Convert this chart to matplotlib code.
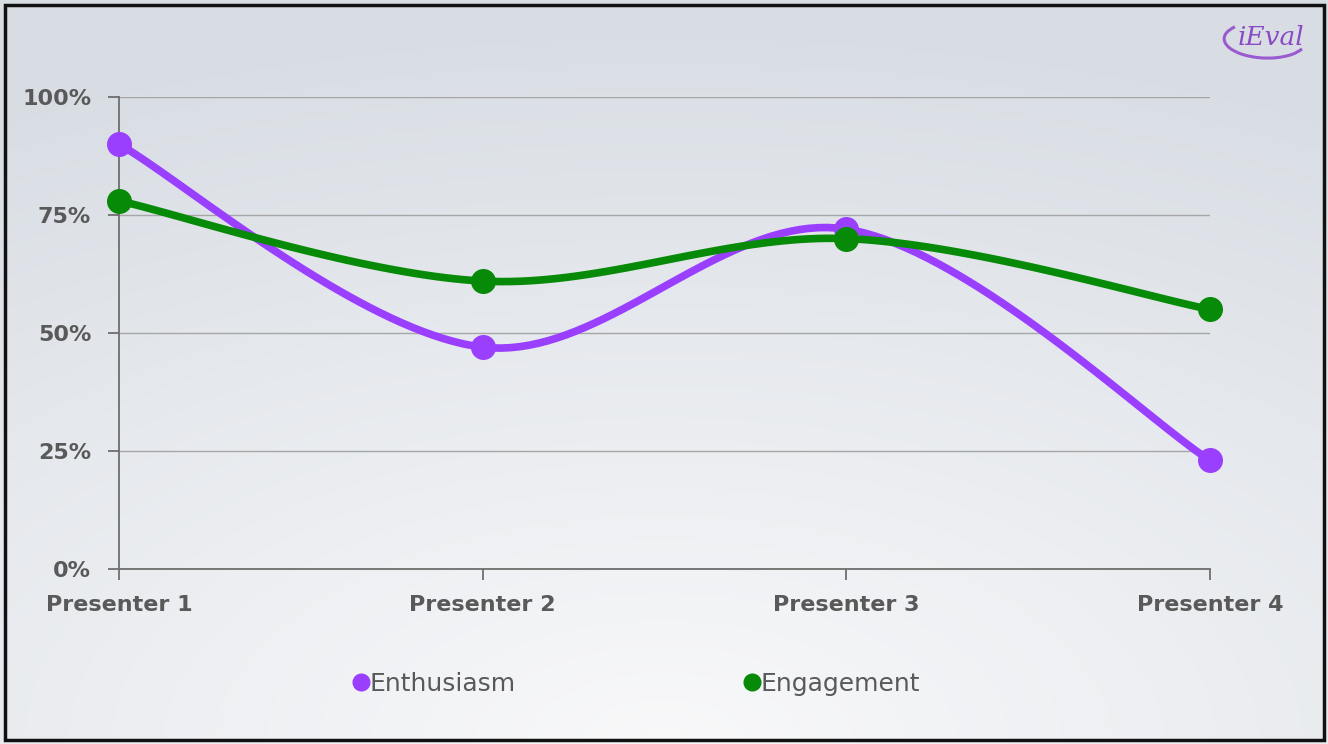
import numpy as np
import matplotlib.pyplot as plt
from matplotlib.lines import Line2D
from matplotlib.patches import Rectangle, Arc
#
# dados
#
presenters = ['Presenter 1', 'Presenter 2', 'Presenter 3', 'Presenter 4']
enthusiasm = [0.90, 0.47, 0.72, 0.23]
engagement = [0.78, 0.61, 0.70, 0.55]
yticks = [0, 0.25, 0.50, 0.75, 1.0]
ylabels = ['0%', '25%', '50%', '75%', '100%']

roxo = '#9b3fff'
verde = '#078a07'
cinza = '#595959'


def suave(y, n=40):
    # curva suavizada tipo Excel (bezier catmull-rom)
    x = np.arange(len(y), dtype=float)
    y = np.asarray(y, dtype=float)
    px, py = [], []
    for i in range(len(y) - 1):
        x0, y0 = x[max(i - 1, 0)], y[max(i - 1, 0)]
        x3, y3 = x[min(i + 2, len(y) - 1)], y[min(i + 2, len(y) - 1)]
        c1x = x[i] + (x[i + 1] - x0) / 6
        c1y = y[i] + (y[i + 1] - y0) / 6
        c2x = x[i + 1] - (x3 - x[i]) / 6
        c2y = y[i + 1] - (y3 - y[i]) / 6
        t = np.linspace(0, 1, n)
        bx = (1-t)**3*x[i] + 3*(1-t)**2*t*c1x + 3*(1-t)*t**2*c2x + t**3*x[i+1]
        by = (1-t)**3*y[i] + 3*(1-t)**2*t*c1y + 3*(1-t)*t**2*c2y + t**3*y[i+1]
        px.extend(bx)
        py.extend(by)
    return np.array(px), np.array(py)


fig = plt.figure(figsize=(13.28, 7.44), dpi=100)
#
# fundo com gradiente
#
bg = fig.add_axes([0, 0, 1, 1], zorder=-10)
yy, xx = np.mgrid[0:1:300j, 0:1:500j]
d = np.sqrt(((xx - 0.5) * 1.0) ** 2 + ((yy - 0.0) * 1.1) ** 2)
d = np.clip(d / 1.05, 0, 1)
c_claro = np.array([0.975, 0.975, 0.98])
c_escuro = np.array([0.85, 0.87, 0.895])
img = c_claro[None, None, :] * (1 - d[..., None]) + c_escuro[None, None, :] * d[..., None]
bg.imshow(img, extent=[0, 1, 0, 1], origin='lower', aspect='auto')
bg.add_patch(Rectangle((4.5 / 1328, 4.5 / 744), 1 - 9 / 1328, 1 - 9 / 744,
                       fill=False, edgecolor='#111111', linewidth=2.5))
bg.set_xlim(0, 1)
bg.set_ylim(0, 1)
bg.axis('off')

ax = fig.add_axes([119 / 1328, 1 - 569 / 744, (1210 - 119) / 1328, (569 - 97) / 744])
ax.patch.set_alpha(0)

xs, ys = suave(enthusiasm)
ax.plot(xs, ys, color=roxo, linewidth=5.5, solid_capstyle='round', zorder=3)
ax.plot(range(4), enthusiasm, 'o', color=roxo, markersize=17, zorder=4, clip_on=False)
xs, ys = suave(engagement)
ax.plot(xs, ys, color=verde, linewidth=5.5, solid_capstyle='round', zorder=5)
ax.plot(range(4), engagement, 'o', color=verde, markersize=17, zorder=6, clip_on=False)

ax.set_xlim(0, 3)
ax.set_ylim(0, 1)
ax.set_xticks(range(4))
ax.set_xticklabels(presenters)
ax.set_yticks(yticks)
ax.set_yticklabels(ylabels)
ax.grid(axis='y', color='#a6a6a6', linewidth=1)
ax.set_axisbelow(True)
for s in ['top', 'right']:
    ax.spines[s].set_visible(False)
for s in ['left', 'bottom']:
    ax.spines[s].set_color('#6e6e6e')
    ax.spines[s].set_linewidth(1.3)
ax.tick_params(axis='both', direction='out', length=8, width=1.3, color='#6e6e6e',
               labelsize=16, labelcolor=cinza)
ax.tick_params(axis='y', pad=12)
ax.tick_params(axis='x', pad=11)
for lb in ax.get_xticklabels() + ax.get_yticklabels():
    lb.set_fontweight('bold')
    lb.set_fontfamily('DejaVu Sans')
#
# legenda
#
handles = [Line2D([], [], marker='o', linestyle='', color=roxo, markersize=12),
           Line2D([], [], marker='o', linestyle='', color=verde, markersize=12)]
fig.legend(handles, ['Enthusiasm', 'Engagement'], loc='center',
           bbox_to_anchor=(0.48, 1 - 684 / 744), ncol=2, frameon=False,
           handlelength=0.5, handletextpad=0.1, columnspacing=9.2,
           prop={'family': 'DejaVu Sans', 'size': 18}, labelcolor=cinza)
#
# logo
#
fig.text(0.982, 0.95, 'iEval', ha='right', va='center', fontsize=19,
         style='italic', family='DejaVu Serif', color='#8a4cc4')
bg.add_patch(Arc((1265 / 1328, 1 - 40 / 744), 82 / 1328, 36 / 744, angle=-8,
                 theta1=150, theta2=345, color='#9a5ad0', linewidth=2.2))

fig.savefig('out.png', dpi=100)
